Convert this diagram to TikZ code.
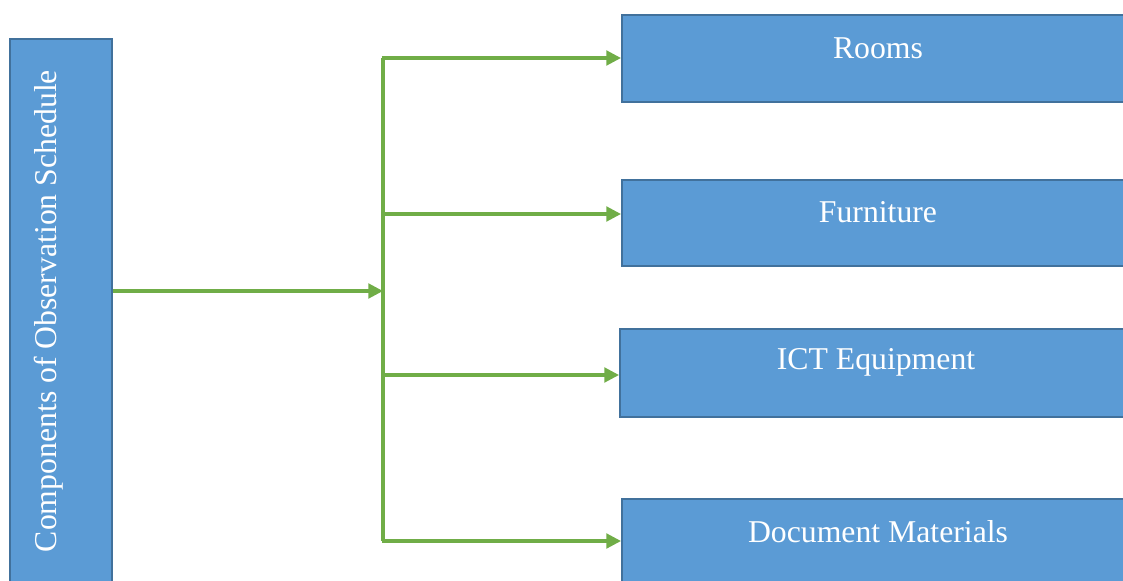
\documentclass[tikz,border=0pt]{standalone}
\usepackage{fontspec}
\setmainfont{Liberation Serif}
\usetikzlibrary{arrows.meta}
\definecolor{boxfill}{HTML}{5B9BD5}
\definecolor{boxline}{HTML}{41719C}
\definecolor{linkgreen}{HTML}{70AD47}
\begin{document}
\begin{tikzpicture}[x=0.75pt,y=-0.75pt,
  block/.style={draw=boxline,fill=boxfill,line width=1.6pt,inner sep=0pt,anchor=north west},
  caption/.style={text=white,font=\fontsize{23.8}{28}\selectfont,inner sep=0pt},
  link/.style={draw=linkgreen,line width=2.3pt},
  arrowlink/.style={link,-{Triangle[length=11pt,width=11pt]}}]
\useasboundingbox (0,0) rectangle (1123,581);
\clip (0,0) rectangle (1123,581);
% blocks
\node[block,minimum width=102*0.75pt,minimum height=570*0.75pt] (main) at (9,38) {};
\node[block,minimum width=514*0.75pt,minimum height=87*0.75pt] (rooms) at (621,14) {};
\node[block,minimum width=514*0.75pt,minimum height=86*0.75pt] (furn) at (621,179) {};
\node[block,minimum width=516*0.75pt,minimum height=88*0.75pt] (ict) at (619,328) {};
\node[block,minimum width=514*0.75pt,minimum height=100*0.75pt] (docs) at (621,498) {};
% captions
\node[caption,rotate=90] (maint) at (49,311) {Components of Observation Schedule};
\node[caption] (roomst) at (878,48) {Rooms};
\node[caption] (furnt) at (878,212) {Furniture};
\node[caption] (ictt) at (876,362) {ICT Equipment};
\node[caption] (docst) at (878,532) {Document Materials};
% connectors
\coordinate (hub) at (383,291);
\coordinate (b1) at (383,58);
\coordinate (b2) at (383,214);
\coordinate (b3) at (383,375);
\coordinate (b4) at (383,541);
\draw[arrowlink] (main.east |- hub) -- (hub);
\draw[link] (b1) -- (b4);
\draw[arrowlink] ([xshift=-1.1pt]b1) -- (b1 -| rooms.west);
\draw[arrowlink] (b2) -- (b2 -| furn.west);
\draw[arrowlink] (b3) -- (b3 -| ict.west);
\draw[arrowlink] ([xshift=-1.1pt]b4) -- (b4 -| docs.west);
\end{tikzpicture}
\end{document}
